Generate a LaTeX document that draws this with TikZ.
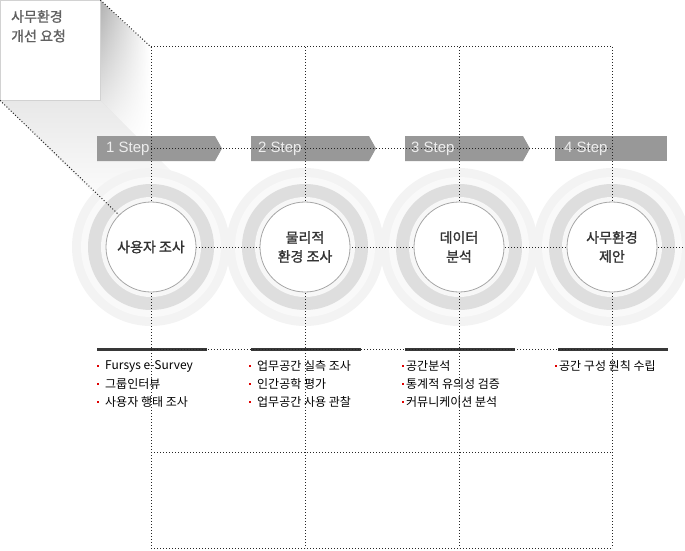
\documentclass[tikz,border=0pt]{standalone}
\usepackage{fontspec}
\setmainfont{Liberation Sans}
\newfontfamily\kr{Noto Sans CJK KR}
\newfontfamily\krb[FakeBold=1.2]{Noto Sans CJK KR}
\usetikzlibrary{positioning,fadings}
\definecolor{stepgray}{HTML}{989898}
\definecolor{halo}{HTML}{F3F3F3}
\definecolor{halogap}{HTML}{F9F9F9}
\definecolor{ringgray}{HTML}{DEDEDE}
\definecolor{ringin}{HTML}{F7F7F7}
\definecolor{bullred}{HTML}{E00000}
\tikzset{
  dots/.style={line width=1pt, dash pattern=on 1pt off 2pt, color=black!85},
  steplabel/.style={anchor=west, inner sep=0pt, text=white!93!black, font=\fontsize{15}{17}\selectfont},
  hub/.style={circle, fill=white, draw=gray!70, line width=0.8pt, minimum size=90pt, inner sep=0pt,
    align=center, text=black!80, font=\krb\fontsize{14}{19}\selectfont},
  item/.style={anchor=west, inner sep=0pt, font=\kr\fontsize{12}{14}\selectfont},
  bar/.style={line width=3pt, color=black!78},
}
\begin{document}
\begin{tikzpicture}[x=1pt,y=-1pt]
    \useasboundingbox (0,0) rectangle (685,551);
    % shadow of the request box
    \shade[top color=gray!18, bottom color=white] (0,100) -- (100,100) -- (215,215) -- (115,215) -- cycle;
    \shade[left color=gray!62, right color=white, path fading=south] (100,0) -- (150,47) -- (150,150) -- (100,100) -- cycle;
    \node[draw=gray!35, fill=white, minimum width=100pt, minimum height=100pt, inner sep=0pt, anchor=north west] (req) at (0,0) {};
    \node[anchor=north west, align=left, inner sep=0pt, text=black!62, font=\krb\fontsize{14}{19.5}\selectfont] (reqtext) at (11,10) {사무환경\\개선 요청};
    % grid corners
    \foreach \x/\n in {151/1,305/2,459/3,612/4} {
        \coordinate (t\n) at (\x,47);
        \coordinate (m\n) at (\x,148);
        \coordinate (d\n) at (\x,349);
        \coordinate (l\n) at (\x,452);
        \coordinate (b\n) at (\x,548);
        \fill[halo] (\x,247) circle (79);
        \fill[halogap] (\x,247) circle (70);
        \fill[ringgray] (\x,247) circle (63);
        \fill[ringin] (\x,247) circle (50);
    }
    \coordinate (e) at (685,247);
    % step bars
    \foreach \x in {151,305,459} {
        \fill[stepgray] (\x-54,136) -- (\x+64,136) -- (\x+71,148.5) -- (\x+64,161) -- (\x-54,161) -- cycle;
    }
    \fill[stepgray] (555,136) rectangle (667,161);
    % dark bars
    \foreach \x in {151,305,459,612} {
        \draw[bar] (\x-54,349) -- (\x+56,349);
    }
    % dotted grid
    \foreach \n in {1,2,3,4} {
        \draw[dots] (t\n) -- (b\n);
    }
    \draw[dots] (t1) -- (t4);
    \draw[dots] (m1) -- (m4);
    \draw[dots] (d1) -- (d4);
    \draw[dots] (l1) -- (l4);
    \draw[dots] (b1) -- (b4);
    \draw[dots] (151,247) -- (e);
    \draw[dots] (req.north east) -- (t1);
    % steps
    \node[hub] (s1) at (151,247) {사용자 조사};
    \node[hub] (s2) at (305,247) {물리적\\환경 조사};
    \node[hub] (s3) at (459,247) {데이터\\분석};
    \node[hub] (s4) at (612,247) {사무환경\\제안};
    \draw[dots] (req.south west) -- (s1.135);
    \node[steplabel] (p1) at (106,149) {1 Step};
    \node[steplabel] (p2) at (258,149) {2 Step};
    \node[steplabel] (p3) at (411,149) {3 Step};
    \node[steplabel] (p4) at (564,149) {4 Step};
    % tasks
    \foreach \x/\y in {97/366,97/384,97/402,249/366,249/384,249/402,402/366,402/384,402/402,555/366} {
        \fill[bullred] (\x,\y-1) rectangle (\x+2,\y+1);
    }
    \node[item] (a1) at (105,366) {Fursys e-Survey};
    \node[item] (a2) at (105,384) {그룹인터뷰};
    \node[item] (a3) at (105,402) {사용자 행태 조사};
    \node[item] (b1t) at (257,366) {업무공간 실측 조사};
    \node[item] (b2t) at (257,384) {인간공학 평가};
    \node[item] (b3t) at (257,402) {업무공간 사용 관찰};
    \node[item] (c1t) at (406,366) {공간분석};
    \node[item] (c2t) at (406,384) {통계적 유의성 검증};
    \node[item] (c3t) at (406,402) {커뮤니케이션 분석};
    \node[item] (d1t) at (559,366) {공간 구성 원칙 수립};
\end{tikzpicture}
\end{document}
